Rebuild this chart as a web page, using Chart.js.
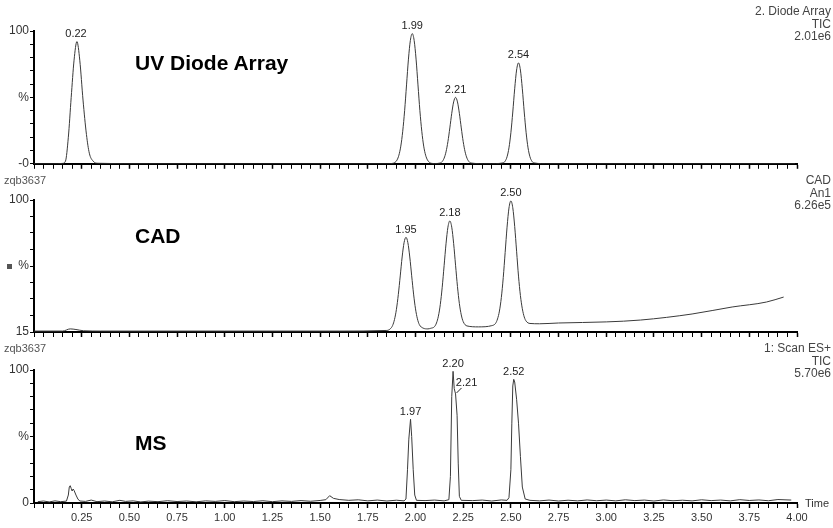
<!DOCTYPE html>
<html>
<head>
<meta charset="utf-8">
<script src="https://cdn.jsdelivr.net/npm/chart.js@4"></script>
<style>
  body { margin: 0; background: #fff; }
  #wrap { position: relative; width: 833px; height: 528px; overflow: hidden;
          font-family: "Liberation Sans", Arial, sans-serif; }
  canvas { position: absolute; left: 0; }
  .note { position: absolute; right: 2px; font-size: 12px; line-height: 12.5px; color: #444; text-align: right; }
  .big { position: absolute; left: 135px; font-size: 21px; line-height: 21px; font-weight: bold; color: #000; }
  .run { position: absolute; left: 4px; font-size: 11px; line-height: 12px; color: #555; }
  .sq { position: absolute; left: 7px; top: 264px; width: 5px; height: 5px; background: #555; }
</style>
</head>
<body>
<div id="wrap">
  <canvas id="uv" width="833" height="172" style="top:0"></canvas>
  <canvas id="cad" width="833" height="170" style="top:172px"></canvas>
  <canvas id="ms" width="833" height="186" style="top:342px"></canvas>

  <div class="big" style="top:52px">UV Diode Array</div>
  <div class="big" style="top:225px">CAD</div>
  <div class="big" style="top:432px">MS</div>

  <div class="note" style="top:5px">2. Diode Array<br>TIC<br>2.01e6</div>
  <div class="note" style="top:174px">CAD<br>An1<br>6.26e5</div>
  <div class="note" style="top:342px">1: Scan ES+<br>TIC<br>5.70e6</div>

  <div class="run" style="top:174px">zqb3637</div>
  <div class="run" style="top:342px">zqb3637</div>
  <div class="sq"></div>
  <div class="run" style="left:805px; top:497px; color:#333">Time</div>
</div>

<script>
// retention time axis
const timeLabels = ["0.25", "0.50", "0.75", "1.00", "1.25", "1.50", "1.75", "2.00",
                    "2.25", "2.50", "2.75", "3.00", "3.25", "3.50", "3.75", "4.00"];

// UV diode array trace (% of 2.01e6)
const uvTime = [0, 0.10, 0.15, 0.165, 0.18, 0.195, 0.21, 0.225, 0.24, 0.257, 0.275, 0.29, 0.31, 0.335,
  0.60, 1.20, 1.60, 1.85,
  1.883, 1.893, 1.903, 1.913, 1.923, 1.933, 1.943, 1.953, 1.963, 1.973, 1.983,
  1.993, 2.003, 2.013, 2.023, 2.033, 2.043, 2.053, 2.063, 2.073, 2.083,
  2.10,
  2.13, 2.14, 2.15, 2.16, 2.17, 2.18, 2.19, 2.20, 2.21, 2.22, 2.23, 2.24, 2.25, 2.26, 2.27, 2.28, 2.29,
  2.38,
  2.46, 2.47, 2.48, 2.49, 2.50, 2.51, 2.52, 2.53, 2.54, 2.55, 2.56, 2.57, 2.58, 2.59, 2.60, 2.61, 2.62,
  2.70, 3.20, 3.99];
const uvSignal = [0, 0, 0.3, 2, 20, 50, 78, 92, 78, 48, 22, 8, 2, 0.4,
  0, 0, 0, 0,
  0.4, 1.1, 2.8, 6.5, 13.3, 24.5, 40, 59.4, 78.8, 92.8, 98,
  92.8, 78.8, 59.4, 40, 24.5, 13.3, 6.5, 2.8, 1.1, 0.4,
  0.2,
  0.6, 1.7, 4.2, 9, 16.7, 27, 38, 46.6, 50, 46.6, 38, 27, 16.7, 9, 4.2, 1.7, 0.6,
  0,
  0.7, 2, 5.3, 12, 23.4, 39, 56.5, 70.6, 76, 70.6, 56.5, 39, 23.4, 12, 5.3, 2, 0.7,
  0, 0, 0];
const uvYTicks = [0, 10, 20, 30, 40, 50, 60, 70, 80, 90, 100];
const uvYLabels = ["-0", "", "", "", "", "%", "", "", "", "", "100"];
const uvPeakTimes = [0.22, 1.983, 2.21, 2.54];
const uvPeakValues = [92, 98, 50, 76];
const uvPeakTexts = ["0.22", "1.99", "2.21", "2.54"];

// CAD trace (% scale starting at 15)
const cadTime = [0, 0.15, 0.19, 0.22, 0.26, 0.35, 1.00, 1.60,
  1.85, 1.87, 1.88, 1.89, 1.90, 1.91, 1.92, 1.93, 1.94, 1.95, 1.96, 1.97, 1.98, 1.99, 2.00, 2.01, 2.02,
  2.04, 2.065, 2.08, 2.10,
  2.11, 2.12, 2.13, 2.14, 2.15, 2.16, 2.17, 2.18, 2.19, 2.20, 2.21, 2.22, 2.23, 2.24, 2.25,
  2.27, 2.33, 2.40, 2.42,
  2.43, 2.44, 2.45, 2.46, 2.47, 2.48, 2.49, 2.50, 2.51, 2.52, 2.53, 2.54, 2.55, 2.56, 2.57, 2.58,
  2.60, 2.65, 2.75, 3.00, 3.18, 3.45, 3.66, 3.84, 3.93];
const cadSignal = [15.6, 15.6, 17.0, 16.6, 15.8, 15.6, 15.6, 15.6,
  16.0, 17.3, 19.2, 23.1, 29.6, 39.2, 51.1, 63.3, 72.5, 76, 72.5, 63.3, 51.2, 39.4, 29.9, 23.5, 19.8,
  17.5, 17.0, 17.4, 18.5,
  20.8, 25.2, 32.7, 43.8, 57.7, 71.8, 82.5, 86.5, 82.5, 71.9, 58, 44.3, 33.3, 26, 21.7,
  18.9, 18.3, 19.1, 20.6,
  23.4, 28.5, 37.2, 50, 66.2, 82.5, 94.8, 99.4, 95, 83, 67, 51, 38.5, 30, 24.7, 22,
  20.5, 20.3, 20.8, 21.5, 22.7, 26.6, 31.1, 34.3, 37.5];
const cadYTicks = [15, 25.6, 36.3, 46.9, 57.5, 68.1, 78.8, 89.4, 100];
const cadYLabels = ["15", "", "", "", "%", "", "", "", "100"];
const cadPeakTimes = [1.95, 2.18, 2.50];
const cadPeakValues = [76, 86.5, 99.4];
const cadPeakTexts = ["1.95", "2.18", "2.50"];

// MS total ion current (% of 5.70e6)
const msTime = [0.02, 0.05, 0.08, 0.11, 0.14, 0.17, 0.18, 0.185, 0.19, 0.195, 0.20, 0.205, 0.21, 0.22, 0.23, 0.24,
  0.27, 0.30, 0.33, 0.37, 0.41, 0.45, 0.48, 0.52, 0.56, 0.60, 0.65, 0.70, 0.75, 0.80, 0.85, 0.90, 0.95,
  1.00, 1.05, 1.10, 1.15, 1.20, 1.25, 1.30, 1.35, 1.40, 1.45, 1.50, 1.53, 1.55, 1.57, 1.60, 1.65, 1.70,
  1.75, 1.80, 1.85, 1.90, 1.94,
  1.95, 1.958, 1.965, 1.974, 1.98, 1.988, 1.996, 2.005,
  2.05, 2.10, 2.15,
  2.175, 2.183, 2.19, 2.197, 2.203, 2.21, 2.218, 2.224, 2.23, 2.24,
  2.30, 2.35, 2.40, 2.45, 2.48,
  2.49, 2.50, 2.505, 2.51, 2.515, 2.52, 2.53, 2.54, 2.55, 2.56, 2.575,
  2.60, 2.65, 2.70, 2.75, 2.80, 2.85, 2.90, 2.95, 3.00, 3.05, 3.10, 3.15, 3.20, 3.25, 3.30, 3.35,
  3.40, 3.45, 3.50, 3.55, 3.60, 3.65, 3.70, 3.75, 3.80, 3.85, 3.90, 3.97];
const msSignal = [1.0, 1.5, 0.8, 1.6, 1.0, 1.4, 6, 12, 13, 11, 9, 10.5, 9.5, 6, 3, 1.5,
  1.2, 2.2, 1.0, 1.5, 0.9, 2.0, 1.2, 1.6, 0.8, 1.4, 1.0, 1.7, 1.1, 1.5, 0.9, 1.6, 1.2,
  1.8, 1.0, 1.5, 1.1, 1.7, 1.0, 1.6, 1.2, 1.8, 1.3, 1.9, 2.5, 5.5, 3.5, 2.6, 2.0, 2.4,
  1.6, 2.2, 1.5, 2.1, 1.6,
  3, 25, 48, 63, 50, 25, 6, 2.0,
  1.8, 2.2, 1.6,
  2.5, 20, 80, 99, 86, 82, 66, 30, 5, 2.0,
  1.8, 2.2, 1.5, 2.3, 2.0,
  4, 25, 60, 88, 93, 91, 78, 60, 35, 12, 3,
  2.0, 1.6, 2.2, 1.5, 2.1, 1.6, 2.3, 1.7, 2.2, 1.6, 2.4, 1.8, 2.2, 1.5, 2.3, 1.7,
  2.1, 1.6, 2.4, 1.8, 2.2, 1.6, 2.5, 1.9, 2.3, 1.7, 2.6, 2.2];
const msYTicks = [0, 10, 20, 30, 40, 50, 60, 70, 80, 90, 100];
const msYLabels = ["0", "", "", "", "", "%", "", "", "", "", "100"];
const msPeakTimes = [1.974, 2.197, 2.21, 2.515];
const msPeakValues = [63, 99, 82, 93];
const msPeakTexts = ["1.97", "2.20", "2.21", "2.52"];

const FONT = '"Liberation Sans", Arial, sans-serif';

// retention time labels above the peaks
const peakLabels = {
  id: "peakLabels",
  afterDatasetsDraw(chart, args, opts) {
    if (!opts.times) return;
    const { ctx } = chart;
    const x = chart.scales.x, y = chart.scales.y;
    ctx.save();
    ctx.font = "11px " + FONT;
    ctx.fillStyle = "#222";
    ctx.strokeStyle = "#222";
    ctx.lineWidth = 1;
    ctx.textAlign = "center";
    ctx.textBaseline = "bottom";
    opts.times.forEach((t, i) => {
      const px = x.getPixelForValue(t);
      const py = y.getPixelForValue(opts.values[i]);
      if (opts.leader === i) {
        // side label with a short leader line (shoulder peak)
        ctx.beginPath();
        ctx.moveTo(px + 1, py - 1);
        ctx.lineTo(px + 6, py - 6);
        ctx.stroke();
        ctx.fillText(opts.texts[i], px + 11, py - 5);
      } else {
        ctx.fillText(opts.texts[i], px, py - 2);
      }
    });
    ctx.restore();
  }
};

function buildPanel(id, times, signal, opt) {
  const isMajor = v => timeLabels.includes(v.toFixed(2));
  return new Chart(document.getElementById(id), {
    type: "line",
    data: {
      datasets: [{
        data: times.map((t, i) => ({ x: t, y: signal[i] })),
        borderColor: "#3a3a3a",
        borderWidth: 1,
        pointRadius: 0,
        fill: false,
        cubicInterpolationMode: opt.smooth ? "monotone" : "default",
        tension: 0
      }]
    },
    options: {
      responsive: false,
      animation: false,
      events: [],
      layout: { padding: { top: opt.padTop, right: 36, left: 0, bottom: 0 } },
      plugins: {
        legend: { display: false },
        tooltip: { enabled: false },
        peakLabels: opt.peaks
      },
      scales: {
        x: {
          type: "linear",
          min: 0,
          max: 4,
          afterFit: s => { s.height = opt.xHeight; },
          border: { color: "#000", width: 2 },
          grid: {
            drawOnChartArea: false,
            color: "#000",
            tickLength: 5,
            tickWidth: c => (c.tick && isMajor(c.tick.value) ? 1.5 : 1)
          },
          ticks: {
            stepSize: 0.05,
            autoSkip: false,
            maxRotation: 0,
            padding: 3,
            color: "#333",
            font: { family: FONT, size: 11 },
            callback: v => (opt.showTime && isMajor(v) ? v.toFixed(2) : "")
          }
        },
        y: {
          min: opt.yTicks[0],
          max: opt.yTicks[opt.yTicks.length - 1],
          afterBuildTicks: s => { s.ticks = opt.yTicks.map(v => ({ value: v })); },
          afterFit: s => { s.width = 34; },
          border: { color: "#000", width: 2 },
          grid: { drawOnChartArea: false, color: "#000", tickLength: 4 },
          ticks: {
            autoSkip: false,
            padding: 1,
            color: "#333",
            font: { family: FONT, size: 12 },
            callback: (v, i) => opt.yLabels[i]
          }
        }
      }
    },
    plugins: [peakLabels]
  });
}

buildPanel("uv", uvTime, uvSignal, {
  padTop: 31, xHeight: 8, showTime: false, smooth: true,
  yTicks: uvYTicks, yLabels: uvYLabels,
  peaks: { times: uvPeakTimes, values: uvPeakValues, texts: uvPeakTexts }
});
buildPanel("cad", cadTime, cadSignal, {
  padTop: 28, xHeight: 10, showTime: false, smooth: true,
  yTicks: cadYTicks, yLabels: cadYLabels,
  peaks: { times: cadPeakTimes, values: cadPeakValues, texts: cadPeakTexts }
});
buildPanel("ms", msTime, msSignal, {
  padTop: 28, xHeight: 25, showTime: true, smooth: false,
  yTicks: msYTicks, yLabels: msYLabels,
  peaks: { times: msPeakTimes, values: msPeakValues, texts: msPeakTexts, leader: 2 }
});
</script>
</body>
</html>
